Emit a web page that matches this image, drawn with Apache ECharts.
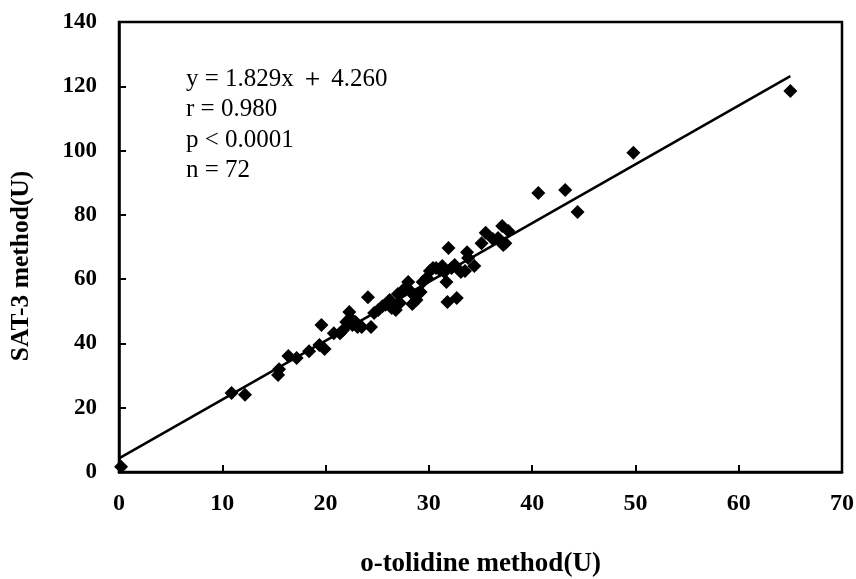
<!DOCTYPE html>
<html><head><meta charset="utf-8">
<script src="https://cdn.jsdelivr.net/npm/echarts@6/dist/echarts.min.js"></script>
<style>html,body{margin:0;padding:0;background:#fff}#c{width:856px;height:579px}</style>
</head><body><div id="c"></div>
<script>
// o-tolidine method (U)
const xValues = [0.2,10.9,12.2,15.4,15.5,16.4,17.2,18.4,19.4,19.6,19.9,20.8,21.4,21.7,22.0,22.3,22.4,22.6,22.9,23.1,23.5,24.1,24.4,24.7,25.1,25.5,25.8,26.2,26.4,26.8,27.0,27.2,27.5,27.8,28.0,28.2,28.4,28.6,28.8,29.2,29.4,29.8,30.1,30.4,30.7,31.1,31.3,31.5,31.7,31.8,31.9,32.2,32.5,32.7,33.1,33.5,33.7,33.8,34.4,35.1,35.5,36.2,36.7,37.1,37.2,37.4,37.7,40.6,43.2,44.4,49.8,65.0];
// SAT-3 method (U)
const yValues = [1.6,24.6,24.0,30.2,32.0,36.1,35.5,37.6,39.5,45.7,38.3,43.2,43.2,44.2,46.7,49.8,47.9,45.7,46.7,45.1,45.1,54.4,45.1,49.5,50.4,51.6,52.0,53.5,51.0,50.4,55.4,52.6,56.6,57.2,59.1,56.3,52.3,54.8,53.5,56.0,59.1,60.4,62.5,63.5,63.5,62.8,64.1,62.2,59.1,52.9,69.7,63.5,64.4,54.1,62.2,62.5,68.4,66.6,64.1,71.2,74.4,72.5,72.8,76.5,70.6,71.2,75.0,86.8,87.7,80.9,99.3,118.5];
const slope = 1.829;
const intercept = 4.260;
const fitRange = [0, 65];
const xTicks = [0,10,20,30,40,50,60,70];
const yTicks = [0,20,40,60,80,100,120,140];
const annotation = ['y = 1.829x \uFF0B 4.260', 'r = 0.980', 'p < 0.0001', 'n = 72'];
const xTitle = 'o-tolidine method(U)';
const yTitle = 'SAT-3 method(U)';

const points = xValues.map((x, i) => [x, yValues[i]]);
const fitLine = fitRange.map(x => [x, slope * x + intercept]);
const serif = '"Liberation Serif", "Times New Roman", serif';

const chart = echarts.init(document.getElementById('c'));
chart.setOption({
  backgroundColor: '#fff',
  animation: false,
  grid: {left: 119, right: 14, top: 22, bottom: 107, outerBoundsMode: 'none', containLabel: false, show: true, borderColor: '#000', borderWidth: 2.5, backgroundColor: 'transparent'},
  xAxis: {
    type: 'value', min: xTicks[0], max: xTicks[xTicks.length - 1], interval: xTicks[1] - xTicks[0],
    axisLine: {show: true, onZero: false, lineStyle: {color: '#000', width: 2.5}},
    axisTick: {show: true, inside: true, length: 7, lineStyle: {color: '#000', width: 2}},
    axisLabel: {color: '#000', fontFamily: serif, fontWeight: 'bold', fontSize: 24, margin: 20},
    splitLine: {show: false},
    name: xTitle, nameLocation: 'middle', nameGap: 79,
    nameTextStyle: {color: '#000', fontFamily: serif, fontWeight: 'bold', fontSize: 27}
  },
  yAxis: {
    type: 'value', min: yTicks[0], max: yTicks[yTicks.length - 1], interval: yTicks[1] - yTicks[0],
    axisLine: {show: true, onZero: false, lineStyle: {color: '#000', width: 2.5}},
    axisTick: {show: true, inside: true, length: 7, lineStyle: {color: '#000', width: 2}},
    axisLabel: {color: '#000', fontFamily: serif, fontWeight: 'bold', fontSize: 23, margin: 22},
    splitLine: {show: false}
  },
  graphic: [
    {type: 'text', x: 186, y: 64, style: {text: annotation.join('\n'), font: '25px ' + serif, fill: '#000', lineHeight: 30.5, align: 'left', verticalAlign: 'top'}},
    {type: 'text', x: 21, y: 266, rotation: Math.PI / 2, style: {text: yTitle, font: 'bold 25.5px ' + serif, fill: '#000', align: 'center', verticalAlign: 'middle'}}
  ],
  series: [
    {type: 'line', data: fitLine, symbol: 'none', lineStyle: {color: '#000', width: 2.5}, z: 2},
    {type: 'scatter', data: points, symbol: 'diamond', symbolSize: 14, itemStyle: {color: '#000', opacity: 1}, z: 3}
  ]
});
</script></body></html>
